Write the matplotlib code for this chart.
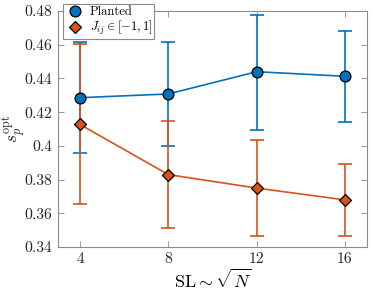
import matplotlib
matplotlib.use("Agg")
import matplotlib.pyplot as plt

plt.rcParams['font.family'] = 'serif'
plt.rcParams['font.serif'] = ['cmr10']
plt.rcParams['mathtext.fontset'] = 'cm'
plt.rcParams['axes.formatter.use_mathtext'] = True

sl = [4, 8, 12, 16]
planted = [0.4286, 0.4308, 0.4440, 0.4413]
planted_hi = [0.4614, 0.4614, 0.4778, 0.4682]
planted_lo = [0.3955, 0.4000, 0.4097, 0.4142]
rand = [0.4127, 0.3830, 0.3750, 0.3680]
rand_hi = [0.4603, 0.4147, 0.4035, 0.3894]
rand_lo = [0.3655, 0.3513, 0.3467, 0.3467]
xticks = [4, 8, 12, 16]
yticks = [0.34, 0.36, 0.38, 0.40, 0.42, 0.44, 0.46, 0.48]
yticklabels = ['0.34', '0.36', '0.38', '0.4', '0.42', '0.44', '0.46', '0.48']

blue = '#0072BD'
orange = '#D95319'

fig = plt.figure(figsize=(3.74, 2.90), dpi=100)
ax = fig.add_axes([0.155, 0.148, 0.826, 0.814])

def err(v, hi, lo):
    return [[a - b for a, b in zip(v, lo)], [b - a for a, b in zip(v, hi)]]

ax.errorbar(sl, planted, yerr=err(planted, planted_hi, planted_lo), color=blue,
            lw=1.2, capsize=4.7, capthick=1.2, zorder=2)
ax.errorbar(sl, rand, yerr=err(rand, rand_hi, rand_lo), color=orange,
            lw=1.2, capsize=4.7, capthick=1.2, zorder=2)
ax.plot(sl, planted, 'o', color=blue, mec='black', mew=0.9, ms=7.8, zorder=4,
        label='Planted')
ax.plot(sl, rand, 'D', color=orange, mec='black', mew=0.9, ms=6.6, zorder=4,
        label=r'$J_{ij} \in [-1,1]$')

ax.set_xlim(3, 17)
ax.set_ylim(0.34, 0.48)
ax.set_xticks(xticks)
ax.set_xticklabels([str(t) for t in xticks])
ax.set_yticks(yticks)
ax.set_yticklabels(yticklabels)
ax.tick_params(direction='in', top=True, right=True, length=4, width=0.6,
               colors='#8a8a8a', labelsize=11.3, labelcolor='#262626', pad=4)
for s in ax.spines.values():
    s.set_color('#8a8a8a')
    s.set_linewidth(0.8)

ax.set_xlabel(r'$\mathrm{SL} \sim \sqrt{N}$', fontsize=13, labelpad=1)
fig.text(14/374, 1 - 129/290, r'$s_p^{\mathrm{opt}}$', fontsize=12.5,
         rotation=90, ha='center', va='center', color='#262626')

leg = ax.legend(loc='upper left', bbox_to_anchor=(62.5/374, 1 - 4/290),
                bbox_transform=fig.transFigure, fontsize=9, frameon=True,
                fancybox=False, edgecolor='#8a8a8a', framealpha=1,
                borderpad=0.15, handletextpad=0.3, handlelength=1.75,
                labelspacing=0.08, borderaxespad=0, markerscale=1.0)
leg.get_frame().set_linewidth(0.8)

fig.savefig('out.png', dpi=100)
